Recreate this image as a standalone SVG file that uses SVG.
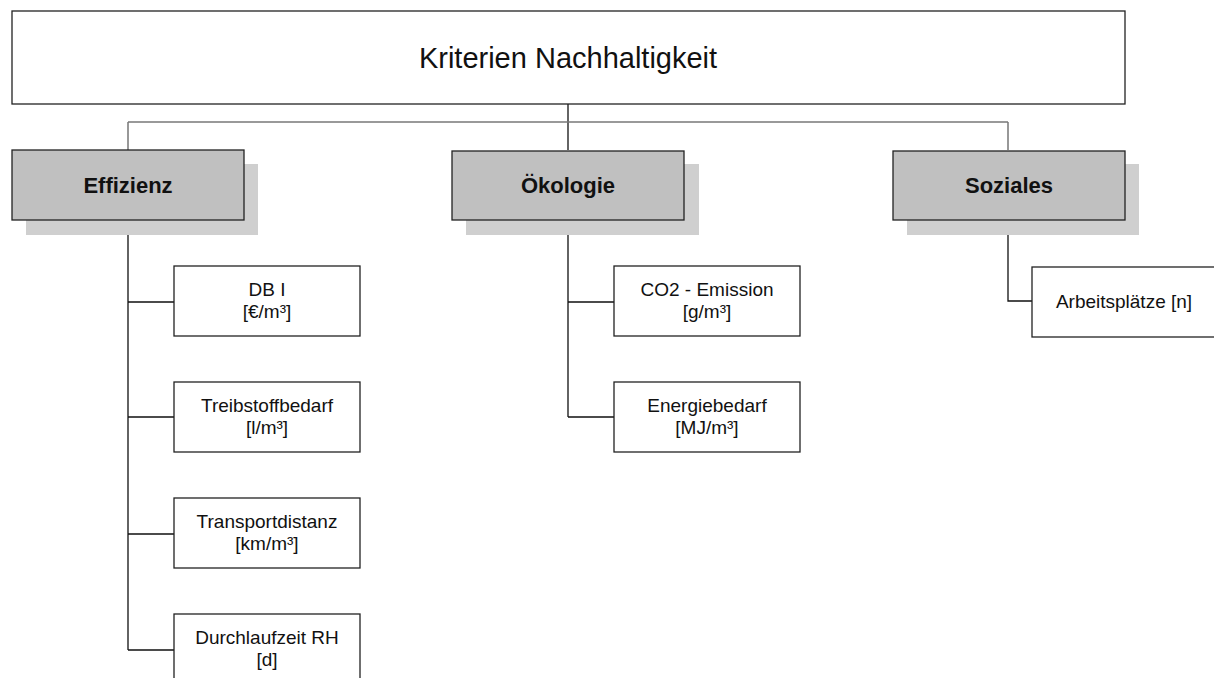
<svg xmlns="http://www.w3.org/2000/svg" width="1214" height="678" viewBox="0 0 1214 678">
<style>
.box{fill:#fff;stroke:#222;stroke-width:1.3}
.cat{fill:#c0c0c0;stroke:#222;stroke-width:1.3}
.shadow{fill:#cfcfcf;stroke:none}
.ln{fill:none;stroke:#111;stroke-width:1.3}
.lg{fill:none;stroke:#777;stroke-width:1.5}
text{font-family:"Liberation Sans",Arial,sans-serif;fill:#111;text-anchor:middle}
.t{font-size:29px}
.c{font-size:22px;font-weight:bold}
.l{font-size:19px}
</style>
<rect width="1214" height="678" fill="#fff"/>
<g id="connectors">
<path class="ln" d="M568,104 V150"/>
<path class="lg" d="M128,122 H1008"/>
<path class="lg" d="M128,122 V150 M1008,122 V150"/>
<path class="ln" d="M128,220 V650 M128,302 H174 M128,417 H174 M128,534 H174 M128,650 H174"/>
<path class="ln" d="M568,220 V417 M568,302 H614 M568,417 H614"/>
<path class="ln" d="M1008,220 V301 H1032"/>
</g>
<g id="root">
<rect class="box" x="12" y="11" width="1113" height="93"/>
<text class="t" x="568" y="68">Kriterien Nachhaltigkeit</text>
</g>
<g id="effizienz">
<rect class="shadow" x="26" y="164" width="232" height="71"/>
<rect class="cat" x="12" y="150" width="232" height="70"/>
<text class="c" x="128" y="193">Effizienz</text>
</g>
<g id="oekologie">
<rect class="shadow" x="466" y="164" width="233" height="71"/>
<rect class="cat" x="452" y="151" width="232" height="69"/>
<text class="c" x="568" y="193">Ökologie</text>
</g>
<g id="soziales">
<rect class="shadow" x="907" y="164" width="232" height="71"/>
<rect class="cat" x="893" y="151" width="232" height="69"/>
<text class="c" x="1009" y="193">Soziales</text>
</g>
<g id="db1">
<rect class="box" x="174" y="266" width="186" height="70"/>
<text class="l" x="267" y="296">DB I</text>
<text class="l" x="267" y="318">[€/m³]</text>
</g>
<g id="treibstoff">
<rect class="box" x="174" y="382" width="186" height="70"/>
<text class="l" x="267" y="412">Treibstoffbedarf</text>
<text class="l" x="267" y="434">[l/m³]</text>
</g>
<g id="transport">
<rect class="box" x="174" y="498" width="186" height="70"/>
<text class="l" x="267" y="528">Transportdistanz</text>
<text class="l" x="267" y="550">[km/m³]</text>
</g>
<g id="durchlauf">
<rect class="box" x="174" y="614" width="186" height="70"/>
<text class="l" x="267" y="644">Durchlaufzeit RH</text>
<text class="l" x="267" y="666">[d]</text>
</g>
<g id="co2">
<rect class="box" x="614" y="266" width="186" height="70"/>
<text class="l" x="707" y="296">CO2 - Emission</text>
<text class="l" x="707" y="318">[g/m³]</text>
</g>
<g id="energie">
<rect class="box" x="614" y="382" width="186" height="70"/>
<text class="l" x="707" y="412">Energiebedarf</text>
<text class="l" x="707" y="434">[MJ/m³]</text>
</g>
<g id="arbeitsplaetze">
<rect class="box" x="1032" y="267" width="186" height="70"/>
<text class="l" x="1124" y="308">Arbeitsplätze [n]</text>
</g>
</svg>
